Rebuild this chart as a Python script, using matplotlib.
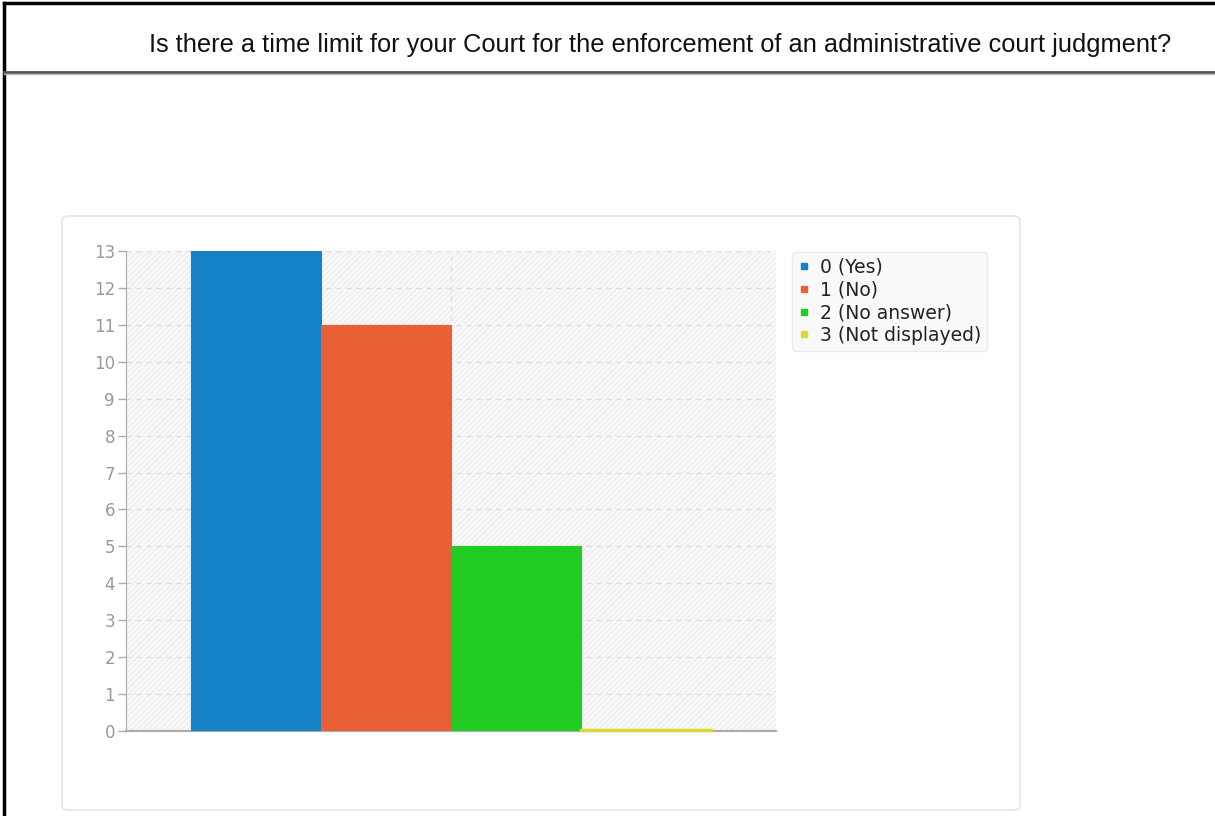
"""
Bar chart: time limit for enforcement of an administrative court judgment.
"""

import numpy as np
import matplotlib.pyplot as plt
from matplotlib.patches import FancyBboxPatch, Rectangle
from matplotlib.lines import Line2D

title = 'Is there a time limit for your Court for the enforcement of an administrative court judgment?'
labels = ['0 (Yes)', '1 (No)', '2 (No answer)', '3 (Not displayed)']
counts = [13, 11, 5, 0]
colors = ['#1582c8', '#e86035', '#22cc22', '#d8d83a']
yticks = np.arange(0, 14)

W, H = 1215, 816
fig = plt.figure(figsize=(W / 100, H / 100), dpi=100)
fig.patch.set_facecolor('white')

def px(x, y):
    # pixel coords (top-left origin) -> figure fraction
    return x / W, 1 - y / H

# page frame
fig.add_artist(Line2D([4 / W, 4 / W], [0, 1 - 3 / H], color='black', lw=2.5))
fig.add_artist(Line2D([4 / W, 1], [1 - 3 / H, 1 - 3 / H], color='black', lw=2.5))
fig.add_artist(Line2D([4 / W, 1], [1 - 72 / H, 1 - 72 / H], color='#555555', lw=2))
fig.add_artist(Line2D([4 / W, 1], [1 - 74 / H, 1 - 74 / H], color='#bbbbbb', lw=1))

tx, ty = px(660, 45)
fig.text(tx, ty, title, ha='center', va='center', fontsize=18.3,
         family='Liberation Sans', color='#111111')

# chart card, behind the axes
cx, cy = px(62, 810)
card = FancyBboxPatch((cx, cy), (1020 - 62) / W, (810 - 216) / H,
                      boxstyle='round,pad=0,rounding_size=0.006',
                      transform=fig.transFigure, facecolor='white',
                      edgecolor='#e6e6e6', lw=1.2, zorder=-5)
fig.add_artist(card)

# plot area
l, b = px(126, 731)
ax = fig.add_axes([l, b, (776 - 126) / W, (731 - 251) / H])
ax.set_zorder(2)
ax.set_facecolor('#f8f8f8')
ax.add_patch(Rectangle((0, 0), 1, 1, transform=ax.transAxes, fill=False,
                       hatch='//////', edgecolor='#eeeeee', lw=0, zorder=0))

x = np.arange(len(counts))
ax.bar(x, counts, width=1.0, color=colors, edgecolor=colors, lw=0.8, zorder=3)
# zero-height bar shows as a thin line
ax.plot([x[3] - 0.5, x[3] + 0.5], [0.02, 0.02], color=colors[3], lw=2.5,
        zorder=4, clip_on=False)

ax.set_xlim(-1.0, 4.0)
ax.set_ylim(0, 13)
ax.set_yticks(yticks)
ax.set_xticks([])
ax.yaxis.grid(True, ls=(0, (4, 4)), color='#dddddd', lw=0.9, zorder=1)
ax.axvline(1.5, ls=(0, (4, 4)), color='#dddddd', lw=0.9, zorder=1)
for s in ['top', 'right']:
    ax.spines[s].set_visible(False)
ax.spines['left'].set_color('#aaaaaa')
ax.spines['bottom'].set_color('#aaaaaa')
ax.spines['bottom'].set_linewidth(1.5)
ax.tick_params(axis='y', colors='#aaaaaa', labelcolor='#999999', labelsize=12,
               length=6, width=1, pad=2)

handles = [Line2D([], [], marker='s', ls='', color=c, markersize=4.5) for c in colors]
leg = fig.legend(handles, labels, loc='upper left', bbox_to_anchor=px(792, 252),
                 borderaxespad=0, fontsize=13.5, frameon=True, fancybox=True,
                 handlelength=0.7, handletextpad=0.5, labelspacing=0.2,
                 borderpad=0.3, labelcolor='#222222')
leg.get_frame().set_facecolor('#f8f8f8')
leg.get_frame().set_edgecolor('#e6e6e6')

fig.savefig('out.png', dpi=100)
